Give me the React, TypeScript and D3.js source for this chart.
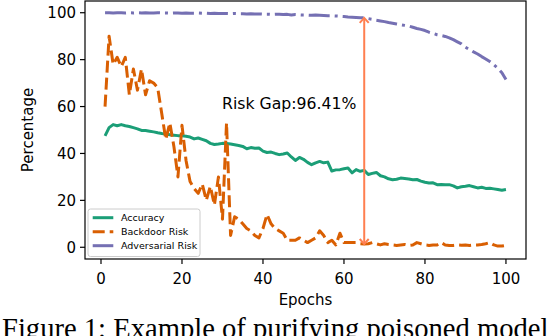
import React from 'react';
import * as d3 from 'd3';

const epochs: number[] = d3.range(1, 101);

const accuracy: number[] = [
  47.5, 51, 52.3, 51.8, 52.3, 51.8, 51.5, 51, 50.5, 49.8,
  49.8, 49.5, 49.2, 48.8, 48.5, 48.3, 48, 47.8, 47.6, 47.5,
  47.3, 47, 46.2, 46.6, 46, 45.4, 44.3, 43.8, 44, 44.3,
  44.2, 44, 43.7, 43.4, 43, 42, 42.5, 42.2, 42.3, 41,
  40.4, 40.6, 40, 39.5, 39.8, 40.2, 38.5, 37, 38.3, 37.5,
  36.2, 35.2, 36, 36.6, 36, 36.3, 32.5, 33, 33.1, 33.5,
  33.8, 31.7, 33.1, 32.4, 32.8, 31, 31.5, 31.9, 30.5, 30,
  29.2, 28.8, 29, 29.5, 29.3, 29.1, 28.8, 28.9, 28.2, 27.7,
  27.4, 27.5, 26.7, 26.8, 26.7, 26.7, 26.2, 25.3, 25.8, 26,
  26.3, 25.8, 25.3, 25.6, 25.1, 25.2, 24.9, 24.6, 24.3, 24.6,
];

const backdoorRisk: number[] = [
  60, 90, 78, 81, 77, 81, 65, 76, 67, 76,
  65, 71, 70, 68, 57, 46, 53, 43, 30, 52,
  37, 28, 25, 23, 27, 20, 26, 18, 30, 12,
  53, 5, 13, 12, 10, 8, 7, 5, 4, 8,
  14, 10, 8, 7, 6, 3, 3, 3, 4, 3,
  2, 3, 4, 7, 5, 2, 3, 1, 6, 2,
  2, 2, 2, 1.5, 1.4, 1.5, 2, 1.5, 1, 1.5,
  1.2, 1, 0.8, 1, 1.2, 0.8, 1, 2, 1.5, 1,
  0.8, 1, 1, 2, 1, 0.8, 0.8, 1, 0.9, 1,
  0.8, 1, 1, 1.2, 1.5, 2, 1, 0.5, 0.5, 0.8,
];

const adversarialRisk: number[] = [
  100, 100, 99.9, 100, 100, 99.9, 100, 99.9, 100, 99.9,
  100, 99.9, 99.9, 100, 99.9, 99.9, 99.8, 99.9, 99.9, 99.8,
  99.9, 99.8, 99.8, 99.9, 99.8, 99.8, 99.7, 99.8, 99.7, 99.7,
  99.7, 99.6, 99.7, 99.6, 99.6, 99.5, 99.6, 99.5, 99.5, 99.4,
  99.4, 99.3, 99.4, 99.3, 99.2, 99.3, 99.0, 99.2, 99.1, 99.0,
  99.0, 98.9, 99.0, 98.9, 98.8, 98.7, 98.7, 98.6, 98.5, 98.4,
  98.2, 98.1, 98.0, 97.9, 97.8, 97.5, 97.2, 96.8, 96.5, 96.2,
  95.8, 95.5, 95.2, 94.9, 94.6, 94.3, 93.8, 93.3, 92.9, 92.4,
  91.7, 91.2, 90.6, 90.3, 89.9, 89.3, 88.5, 87.6, 86.7, 85.3,
  84.3, 83.3, 82.4, 81.3, 80.3, 79.2, 77.8, 76.3, 74.4, 71.5,
];

const xTicks: number[] = [0, 20, 40, 60, 80, 100];
const yTicks: number[] = [0, 20, 40, 60, 80, 100];
const seriesNames: string[] = ['Accuracy', 'Backdoor Risk', 'Adversarial Risk'];
const gapEpoch = 65;
const gapLabel = 'Risk Gap:96.41%';
const xLabel = 'Epochs';
const yLabel = 'Percentage';
const caption = 'Figure 1: Example of purifying poisoned model';

const colors = ['#1b9e77', '#d95f02', '#7570b3'];
const dashArrays = [undefined, '12 5', '21 5 3 5'];
const FONT = 'DejaVu Sans';

export default function App() {
  const W = 548;
  const H = 336;
  const left = 85, right = 526, top = 1, bottom = 259;
  const x = d3.scaleLinear().domain([-3.95, 104.95]).range([left, right]);
  const y = d3.scaleLinear().domain([-5, 105]).range([bottom, top]);

  const mkLine = (vals: number[]) =>
    d3.line<number>().x((_, i) => x(epochs[i])).y((d) => y(d))(vals) || '';

  const series = [accuracy, backdoorRisk, adversarialRisk];

  const gi = epochs.indexOf(gapEpoch);
  const ax = x(gapEpoch);
  const ay0 = y(backdoorRisk[gi]);
  const ay1 = y(adversarialRisk[gi]);
  const arrowColor = '#ff7f50';
  const hw = 4.5, hl = 5;

  const legX = 88, legY = 209, legW = 112, legH = 47.5;

  return (
    <svg width={W} height={H} style={{ position: 'absolute', left: 0, top: 0, background: '#fff' }}>
      <rect x={0} y={0} width={W} height={H} fill="#fff" />
      <g fontFamily={FONT}>
        {series.map((s, k) => (
          <path
            key={k}
            d={mkLine(s)}
            fill="none"
            stroke={colors[k]}
            strokeWidth={3}
            strokeDasharray={dashArrays[k]}
            strokeLinejoin="round"
          />
        ))}

        {/* gap arrow */}
        <line x1={ax} x2={ax} y1={ay0} y2={ay1} stroke={arrowColor} strokeWidth={2} />
        <path d={`M${ax - hw},${ay1 + hl}L${ax},${ay1}L${ax + hw},${ay1 + hl}`} fill="none" stroke={arrowColor} strokeWidth={2} />
        <path d={`M${ax - hw},${ay0 - hl}L${ax},${ay0}L${ax + hw},${ay0 - hl}`} fill="none" stroke={arrowColor} strokeWidth={2} />
        <text x={222} y={108.5} fontSize={15.7} fill="#000">{gapLabel}</text>

        {/* frame */}
        <rect x={left} y={top} width={right - left} height={bottom - top} fill="none" stroke="#000" strokeWidth={1.2} />

        {/* y ticks */}
        {yTicks.map((t) => (
          <g key={'y' + t}>
            <line x1={left - 5} x2={left} y1={y(t)} y2={y(t)} stroke="#000" strokeWidth={1.2} />
            <text x={left - 9} y={y(t)} dy="0.36em" textAnchor="end" fontSize={15}>{t}</text>
          </g>
        ))}
        {/* x ticks */}
        {xTicks.map((t) => (
          <g key={'x' + t}>
            <line x1={x(t)} x2={x(t)} y1={bottom} y2={bottom + 5} stroke="#000" strokeWidth={1.2} />
            <text x={x(t)} y={284} textAnchor="middle" fontSize={15}>{t}</text>
          </g>
        ))}
        <text x={(left + right) / 2} y={304.5} textAnchor="middle" fontSize={15}>{xLabel}</text>
        <text transform={`translate(32.5,${(top + bottom) / 2}) rotate(-90)`} textAnchor="middle" fontSize={15}>{yLabel}</text>

        {/* legend */}
        <rect x={legX} y={legY} width={legW} height={legH} rx={2.5} fill="#fff" fillOpacity={0.8} stroke="#cccccc" strokeWidth={1} />
        {seriesNames.map((n, k) => {
          const ly = 217.7 + k * 14;
          return (
            <g key={n}>
              <line x1={92.7} x2={113.3} y1={ly} y2={ly} stroke={colors[k]} strokeWidth={3} strokeDasharray={dashArrays[k]} />
              <text x={121} y={ly} dy="0.36em" fontSize={9.5}>{n}</text>
            </g>
          );
        })}
      </g>
      <text x={2} y={338} fontFamily="Liberation Serif" fontSize={28.6} fill="#000">{caption}</text>
    </svg>
  );
}
